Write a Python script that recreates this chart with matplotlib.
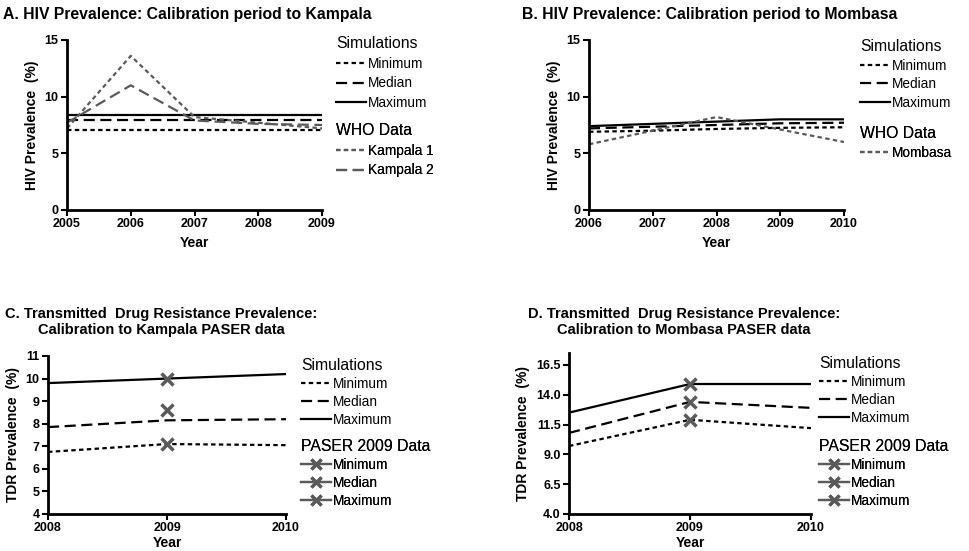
import matplotlib
matplotlib.use("Agg")
import matplotlib.pyplot as plt
from matplotlib.lines import Line2D

plt.rcParams['font.family'] = ['Liberation Sans', 'DejaVu Sans']

# panel A: Kampala HIV prevalence
years_a = [2005, 2006, 2007, 2008, 2009]
sim_min_a = [7.1, 7.1, 7.1, 7.1, 7.1]
sim_med_a = [7.9, 7.9, 7.9, 7.9, 7.9]
sim_max_a = [8.4, 8.4, 8.4, 8.4, 8.4]
kampala1 = [7.2, 13.6, 8.2, 7.7, 7.2]
kampala2 = [7.7, 11.0, 7.9, 7.6, 7.5]

# panel B: Mombasa HIV prevalence
years_b = [2006, 2007, 2008, 2009, 2010]
sim_min_b = [6.9, 7.0, 7.15, 7.25, 7.3]
sim_med_b = [7.2, 7.35, 7.5, 7.65, 7.7]
sim_max_b = [7.4, 7.6, 7.8, 8.0, 8.0]
mombasa = [5.8, 7.0, 8.2, 7.1, 6.0]

# panel C: Kampala TDR
years_c = [2008, 2009, 2010]
sim_min_c = [6.75, 7.1, 7.05]
sim_med_c = [7.85, 8.15, 8.2]
sim_max_c = [9.8, 10.0, 10.2]
paser_c = [7.1, 8.6, 10.0]

# panel D: Mombasa TDR
years_d = [2008, 2009, 2010]
sim_min_d = [9.7, 11.9, 11.2]
sim_med_d = [10.8, 13.4, 12.9]
sim_max_d = [12.5, 14.9, 14.9]
paser_d = [11.9, 13.4, 14.9]

W, H = 969, 551
GREY = '#5a5a5a'
DOT = (0, (2, 1.5))
DASH = (0, (5, 2.5))


def fx(px):
    return px / W


def fy(py):
    return 1 - py / H


def make_axes(left, right, top, bottom):
    return fig.add_axes([fx(left), fy(bottom), fx(right - left), (bottom - top) / H])


def style(ax, ylabel):
    for s in ['top', 'right']:
        ax.spines[s].set_visible(False)
    for s in ['left', 'bottom']:
        ax.spines[s].set_linewidth(2)
    ax.tick_params(direction='out', length=4, width=1.5, labelsize=9, pad=2)
    for lab in ax.get_xticklabels() + ax.get_yticklabels():
        lab.set_fontweight('bold')
    ax.set_xlabel('Year', fontsize=10, fontweight='bold', labelpad=4)
    ax.set_ylabel(ylabel, fontsize=10, fontweight='bold', labelpad=4)


def add_legend(ax, handles, labels, title, px, py, spacing=0.42):
    leg = ax.legend(handles, labels, title=title, loc='upper left',
                    bbox_to_anchor=(fx(px), fy(py)), bbox_transform=fig.transFigure,
                    frameon=False, fontsize=9.8, title_fontsize=11.3, alignment='left',
                    handlelength=2.2, handletextpad=0.15, labelspacing=spacing,
                    borderpad=0, borderaxespad=0)
    ax.add_artist(leg)


fig = plt.figure(figsize=(W / 100, H / 100), dpi=100)

sim_handles = [Line2D([], [], color='black', lw=1.6, linestyle=DOT),
               Line2D([], [], color='black', lw=1.6, linestyle=DASH),
               Line2D([], [], color='black', lw=1.6)]
sim_labels = ['Minimum', 'Median', 'Maximum']

# A
ax = make_axes(67, 322, 40, 210)
ax.plot(years_a, sim_min_a, color='black', lw=1.6, linestyle=DOT)
ax.plot(years_a, sim_med_a, color='black', lw=1.6, linestyle=DASH)
ax.plot(years_a, sim_max_a, color='black', lw=1.6)
ax.plot(years_a, kampala1, color=GREY, lw=1.6, linestyle=DOT)
ax.plot(years_a, kampala2, color=GREY, lw=1.6, linestyle=DASH)
ax.set_xlim(2005, 2009)
ax.set_ylim(0, 15)
ax.set_xticks(years_a)
ax.set_yticks([0, 5, 10, 15])
style(ax, 'HIV Prevalence  (%)')
add_legend(ax, sim_handles, sim_labels, 'Simulations', 336, 36)
add_legend(ax, [Line2D([], [], color=GREY, lw=1.6, linestyle=DOT),
                Line2D([], [], color=GREY, lw=1.6, linestyle=DASH)],
           ['Kampala 1', 'Kampala 2'], 'WHO Data', 336, 123)
fig.text(fx(3), fy(14), 'A. HIV Prevalence: Calibration period to Kampala',
         fontsize=11.3, fontweight='bold', va='center', ha='left')

# B
ax = make_axes(589, 844, 40, 210)
ax.plot(years_b, sim_min_b, color='black', lw=1.6, linestyle=DOT)
ax.plot(years_b, sim_med_b, color='black', lw=1.6, linestyle=DASH)
ax.plot(years_b, sim_max_b, color='black', lw=1.6)
ax.plot(years_b, mombasa, color=GREY, lw=1.6, linestyle=DOT)
ax.set_xlim(2006, 2010)
ax.set_ylim(0, 15)
ax.set_xticks(years_b)
ax.set_yticks([0, 5, 10, 15])
style(ax, 'HIV Prevalence  (%)')
add_legend(ax, sim_handles, sim_labels, 'Simulations', 860, 39, 0.34)
add_legend(ax, [Line2D([], [], color=GREY, lw=1.6, linestyle=DOT)],
           ['Mombasa'], 'WHO Data', 860, 126, 0.34)
fig.text(fx(522), fy(15), 'B. HIV Prevalence: Calibration period to Mombasa',
         fontsize=11.3, fontweight='bold', va='center', ha='left')

paser_handles = [Line2D([], [], color=GREY, lw=1.6, marker='x', ms=7, mew=2.3)
                 for _ in range(3)]

# C
ax = make_axes(48, 286, 356, 514)
ax.plot(years_c, sim_min_c, color='black', lw=1.6, linestyle=DOT)
ax.plot(years_c, sim_med_c, color='black', lw=1.6, linestyle=DASH)
ax.plot(years_c, sim_max_c, color='black', lw=1.6)
ax.plot([years_c[1]] * 3, paser_c, linestyle='none', marker='x', ms=8, mew=2.5, color=GREY)
ax.set_xlim(2008, 2010)
ax.set_ylim(4, 11)
ax.set_xticks(years_c)
ax.set_yticks(range(4, 12))
style(ax, 'TDR Prevalence  (%)')
ax.xaxis.labelpad = 1
add_legend(ax, sim_handles, sim_labels, 'Simulations', 301, 358, 0.3)
add_legend(ax, paser_handles, sim_labels, 'PASER 2009 Data', 301, 439, 0.3)
fig.text(fx(161), fy(322), 'C. Transmitted  Drug Resistance Prevalence:\nCalibration to Kampala PASER data',
         fontsize=10.5, fontweight='bold', va='center', ha='center', multialignment='center')

# D
ax = make_axes(569, 811, 353, 514)
ax.plot(years_d, sim_min_d, color='black', lw=1.6, linestyle=DOT)
ax.plot(years_d, sim_med_d, color='black', lw=1.6, linestyle=DASH)
ax.plot(years_d, sim_max_d, color='black', lw=1.6)
ax.plot([years_d[1]] * 3, paser_d, linestyle='none', marker='x', ms=8, mew=2.5, color=GREY)
ax.set_xlim(2008, 2010)
ax.set_ylim(4, 17.5)
ax.set_xticks(years_d)
ax.set_yticks([4.0, 6.5, 9.0, 11.5, 14.0, 16.5])
ax.set_yticklabels(['4.0', '6.5', '9.0', '11.5', '14.0', '16.5'])
style(ax, 'TDR Prevalence  (%)')
ax.xaxis.labelpad = 1
add_legend(ax, sim_handles, sim_labels, 'Simulations', 819, 356, 0.3)
add_legend(ax, paser_handles, sim_labels, 'PASER 2009 Data', 819, 439, 0.3)
fig.text(fx(684), fy(322), 'D. Transmitted  Drug Resistance Prevalence:\nCalibration to Mombasa PASER data',
         fontsize=10.5, fontweight='bold', va='center', ha='center', multialignment='center')

fig.savefig('out.png', dpi=100)
